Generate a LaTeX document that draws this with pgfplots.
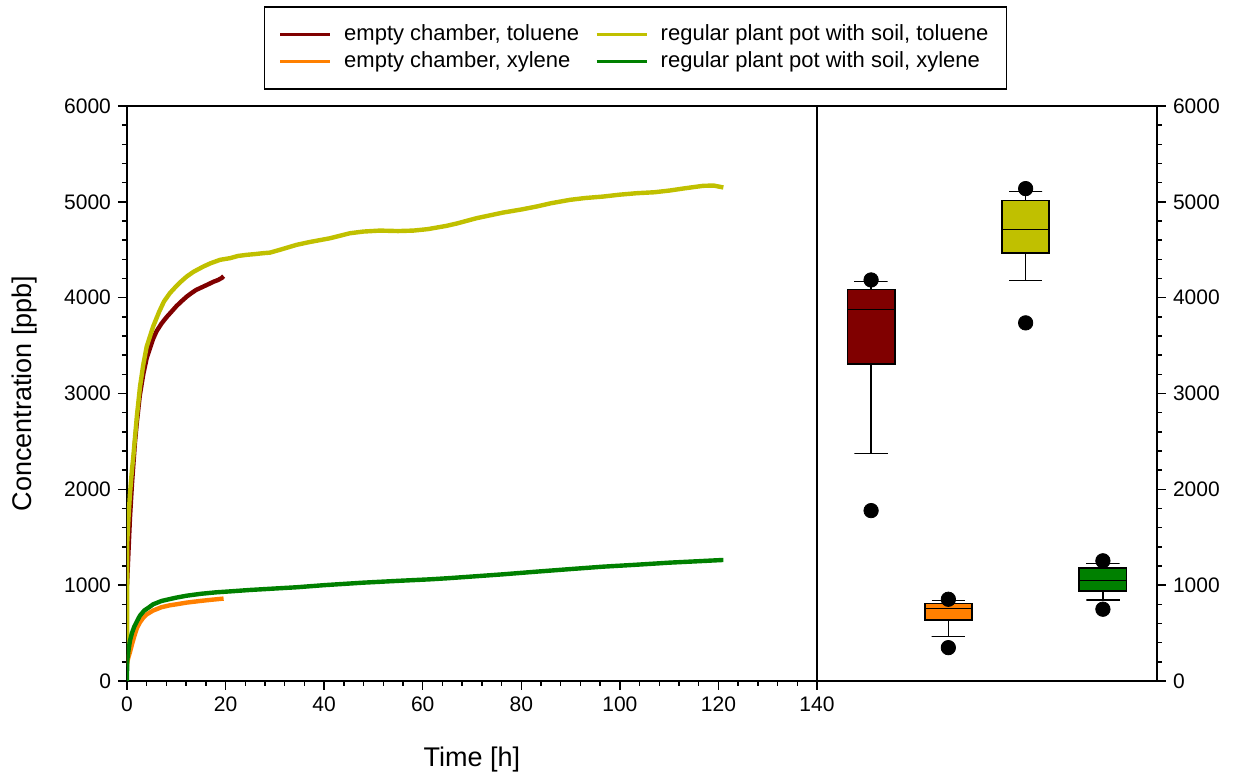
\documentclass[border=0pt]{standalone}
\usepackage{fontspec}
\setmainfont{Liberation Sans}
\usepackage{pgfplots}
\pgfplotsset{compat=1.18}
\definecolor{cRed}{HTML}{800000}
\definecolor{cOrange}{HTML}{FF8000}
\definecolor{cYellow}{HTML}{C0C000}
\definecolor{cGreen}{HTML}{008000}
\begin{document}
\begin{tikzpicture}
\useasboundingbox (-63.5pt,-47.5pt) rectangle (556pt,340.5pt);
\begin{axis}[
  at={(0pt,0pt)}, anchor=south west, scale only axis,
  width=345pt, height=287.5pt,
  xmin=0, xmax=140, ymin=0, ymax=6000,
  xtick={0,20,...,140}, ytick={0,1000,...,6000},
  minor x tick num=4, minor y tick num=4,
  tick align=outside, xtick pos=bottom, ytick pos=left,
  major tick length=4.5pt, minor tick length=2.5pt,
  axis line style={line width=0.8pt},
  every tick/.style={line width=0.7pt, black},
  /pgf/number format/assume math mode=true,
  /pgf/number format/1000 sep={},
  ticklabel style={font=\fontsize{10.5}{12}\selectfont},
  xlabel={Time [h]}, ylabel={Concentration [ppb]},
  label style={font=\fontsize{13.5}{16}\selectfont},
  xlabel style={at={(axis description cs:0.5,-0.137)}, anchor=center},
  ylabel style={at={(axis description cs:-0.148,0.5)}, anchor=center},
  legend columns=2,
  legend cell align=left,
  legend style={at={(axis description cs:0.737,1.1009)}, anchor=center,
    draw=black, line width=0.8pt, font=\fontsize{11}{13}\selectfont,
    inner xsep=7pt, inner ysep=7pt,
    /tikz/every even column/.append style={column sep=6pt}},
  legend image code/.code={\draw[#1, line width=1.5pt] (0pt,0pt) -- (25pt,0pt); \path (29pt,0pt);},
]
\addplot[cRed, line width=2.2pt] coordinates {
(0,1000) (0.3,1350) (0.6,1700) (1,2050) (1.6,2480) (2,2700) (2.6,2980) (3.3,3200)
(4,3370) (5.3,3570) (6,3650) (7,3730) (8,3795) (8.7,3835) (10,3910) (11,3960)
(12.1,4010) (13,4045) (14,4080) (15.5,4116) (16.5,4140) (17.5,4165) (18.5,4185)
(19.2,4205) (19.6,4225)};
\addlegendentry{empty chamber, toluene}
\addplot[cYellow, line width=2.2pt] coordinates {
(0,150) (0.05,1450) (0.3,1700) (0.6,1950) (1,2200) (1.3,2350) (2,2760) (2.64,3072)
(3.3,3300) (4,3490) (5.3,3698) (6.5,3850) (7.5,3960) (8.7,4047) (10,4120) (11,4170)
(12.1,4220) (13.5,4270) (15.5,4325) (17,4360) (18.9,4395) (20.9,4412) (22.5,4435)
(24.3,4447) (26,4455) (27.6,4464) (29,4470) (31,4499) (34.4,4551) (37,4580)
(41.2,4620) (45.2,4672) (48,4690) (51.3,4700) (55,4695) (58.1,4700) (61,4715)
(64.8,4749) (67,4775) (70.9,4829) (76.3,4888) (80,4920) (83.1,4951) (86,4985)
(89.9,5021) (93,5040) (96.6,5055) (100,5075) (103.4,5090) (107,5100) (110.1,5118)
(113,5140) (116.9,5167) (119,5170) (121,5150)};
\addlegendentry{regular plant pot with soil, toluene}
\addplot[cOrange, line width=2.2pt] coordinates {
(0,180) (0.3,250) (0.6,300) (1,380) (1.5,470) (2,550) (2.6,610) (3.3,660) (4,695)
(5.3,735) (7,770) (8.7,790) (10,800) (12.1,818) (15,836) (17,847) (19.6,860)};
\addlegendentry{empty chamber, xylene}
\addplot[cGreen, line width=2.2pt] coordinates {
(0,0) (0.02,200) (0.3,320) (0.6,420) (1,500) (1.5,570) (2,620) (2.6,680) (3.5,735)
(4.5,770) (5.3,800) (7,835) (8.7,855) (10,870) (12.1,890) (15,910) (18,925)
(20.9,935) (25,950) (30,965) (34.4,978) (40,1000) (47.9,1026) (55,1045)
(61.5,1061) (65,1072) (70,1090) (76,1112) (83.1,1141) (90,1168) (96.6,1193)
(103,1212) (110.1,1235) (116,1250) (121,1263)};
\addlegendentry{regular plant pot with soil, xylene}
\end{axis}
\begin{axis}[
  at={(345pt,0pt)}, anchor=south west, scale only axis,
  width=170pt, height=287.5pt,
  xmin=0.3, xmax=4.7, ymin=0, ymax=6000,
  xtick=\empty, ytick={0,1000,...,6000}, minor y tick num=4,
  ytick pos=right, yticklabel pos=right, tick align=outside,
  major tick length=4.5pt, minor tick length=2.5pt,
  axis line style={line width=0.8pt},
  every tick/.style={line width=0.7pt, black},
  /pgf/number format/assume math mode=true,
  /pgf/number format/1000 sep={},
  ticklabel style={font=\fontsize{10.5}{12}\selectfont},
  clip=false,
]
% box 1: empty chamber, toluene
\addplot[black, line width=0.6pt] coordinates {(0.785,4169) (1.215,4169) (1,4169) (1,4085)};
\addplot[black, line width=0.6pt] coordinates {(1,3312) (1,2375) (0.785,2375) (1.215,2375)};
\addplot[fill=cRed, draw=black, line width=0.9pt] coordinates {(0.695,3312) (1.305,3312) (1.305,4085) (0.695,4085) (0.695,3312)} --cycle;
\addplot[black, line width=0.6pt] coordinates {(0.695,3877) (1.305,3877)};
\addplot[only marks, mark=*, mark size=3.6pt, black] coordinates {(1,4185) (1,1778)};
% box 2: empty chamber, xylene
\addplot[black, line width=0.6pt] coordinates {(1.785,841) (2.215,841) (2,841) (2,809)};
\addplot[black, line width=0.6pt] coordinates {(2,637) (2,461) (1.785,461) (2.215,461)};
\addplot[fill=cOrange, draw=black, line width=0.9pt] coordinates {(1.695,637) (2.305,637) (2.305,809) (1.695,809) (1.695,637)} --cycle;
\addplot[black, line width=0.6pt] coordinates {(1.695,757) (2.305,757)};
\addplot[only marks, mark=*, mark size=3.6pt, black] coordinates {(2,853) (2,348)};
% box 3: plant pot, toluene
\addplot[black, line width=0.6pt] coordinates {(2.785,5106) (3.215,5106) (3,5106) (3,5014)};
\addplot[black, line width=0.6pt] coordinates {(3,4462) (3,4177) (2.785,4177) (3.215,4177)};
\addplot[fill=cYellow, draw=black, line width=0.9pt] coordinates {(2.695,4462) (3.305,4462) (3.305,5014) (2.695,5014) (2.695,4462)} --cycle;
\addplot[black, line width=0.6pt] coordinates {(2.695,4710) (3.305,4710)};
\addplot[only marks, mark=*, mark size=3.6pt, black] coordinates {(3,5138) (3,3737)};
% box 4: plant pot, xylene
\addplot[black, line width=0.6pt] coordinates {(3.785,1230) (4.215,1230) (4,1230) (4,1177)};
\addplot[black, line width=0.6pt] coordinates {(4,941) (4,845) (3.785,845) (4.215,845)};
\addplot[fill=cGreen, draw=black, line width=0.9pt] coordinates {(3.695,941) (4.305,941) (4.305,1177) (3.695,1177) (3.695,941)} --cycle;
\addplot[black, line width=0.6pt] coordinates {(3.695,1049) (4.305,1049)};
\addplot[only marks, mark=*, mark size=3.6pt, black] coordinates {(4,1254) (4,749)};
\end{axis}
\end{tikzpicture}
\end{document}
